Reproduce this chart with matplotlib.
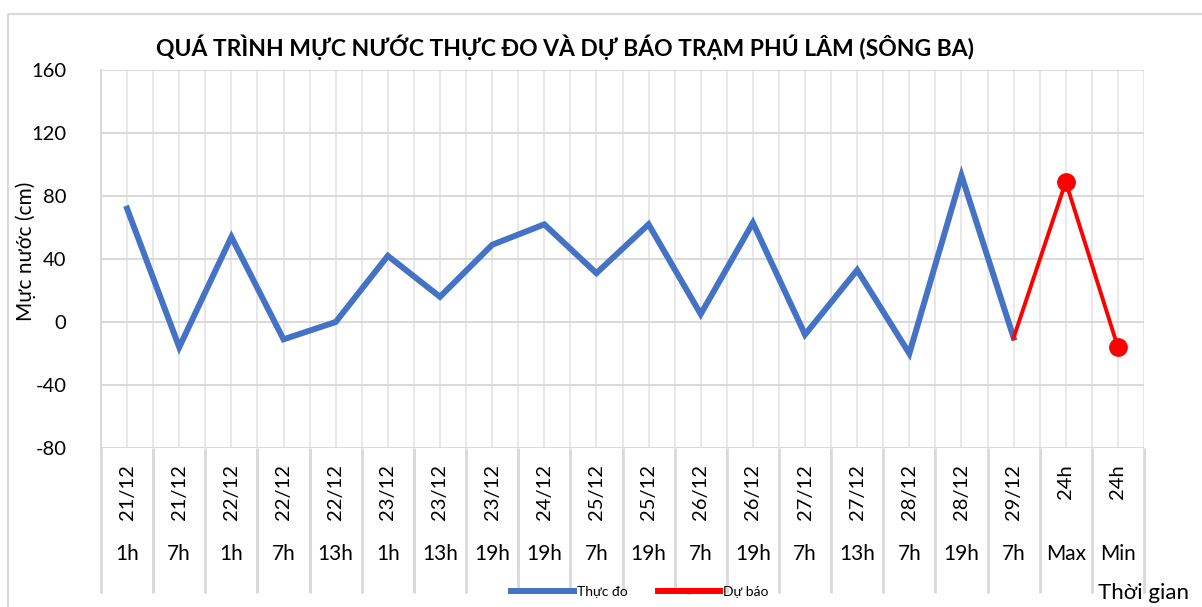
import numpy as np
import matplotlib
matplotlib.use("Agg")
from matplotlib import pyplot as plt
from matplotlib.lines import Line2D

plt.rcParams['font.family'] = ['Lato', 'DejaVu Sans']

# categories (two-level axis)
dates = ['21/12', '21/12', '22/12', '22/12', '22/12', '23/12', '23/12', '23/12', '24/12', '25/12',
         '25/12', '26/12', '26/12', '27/12', '27/12', '28/12', '28/12', '29/12', '24h', '24h']
hours = ['1h', '7h', '1h', '7h', '13h', '1h', '13h', '19h', '19h', '7h',
         '19h', '7h', '19h', '7h', '13h', '7h', '19h', '7h', 'Max', 'Min']

# water levels (cm)
thuc_do = [72, -16, 54, -11, 0, 42, 16, 49, 62, 31, 62, 5, 63, -8, 33, -20, 93, -10, None, None]
du_bao = [None] * 17 + [-10, 89, -16]

yticks = [-80, -40, 0, 40, 80, 120, 160]

x = np.arange(len(dates))
obs = np.array([np.nan if v is None else v for v in thuc_do], dtype=float)
fc = np.array([np.nan if v is None else v for v in du_bao], dtype=float)

fig = plt.figure(figsize=(12.02, 6.07), dpi=100)
ax = fig.add_axes([101 / 1202, 1 - 448 / 607, 1043 / 1202, 378 / 607])

gcol = '#d9d9d9'
ax.set_xlim(-0.5, len(dates) - 0.5)
ax.set_ylim(-80, 160)
ax.set_yticks(yticks)
ax.set_yticklabels([str(v) for v in yticks], fontsize=14.5)
ax.tick_params(axis='y', length=0, pad=25)
ax.set_xticks(np.arange(-0.5, len(dates), 0.5))
ax.tick_params(axis='x', length=0, labelbottom=False)
ax.grid(True, axis='x', color='#e4e4e4', linewidth=1.2)
ax.grid(True, axis='y', color=gcol, linewidth=1.4)
ax.set_axisbelow(True)
for s in ['top', 'right', 'bottom']:
    ax.spines[s].set_visible(False)
ax.spines['left'].set_color(gcol)
ax.spines['left'].set_linewidth(1.4)

ax.plot(x, obs, color='#4472C4', linewidth=4.3, solid_joinstyle='miter', label='Thực đo')
ax.plot(x, fc, color='#FF0000', linewidth=2.8, marker='o', markersize=12.5,
        markevery=[18, 19], label='Dự báo')

# multi-level category labels
trans = ax.get_xaxis_transform()
ax.vlines(np.arange(-0.5, len(dates), 1.0), -0.384, 0, transform=trans,
          color=gcol, linewidth=2, clip_on=False)
for i in range(len(dates)):
    ax.text(x[i], -0.042, dates[i], transform=trans, rotation=90, ha='center', va='top',
            fontsize=14.5)
    ax.text(x[i], -0.28, hours[i], transform=trans, ha='center', va='center', fontsize=15)

ax.set_ylabel('Mực nước (cm)', fontsize=15)
ax.yaxis.set_label_coords(-0.062, 0.52)

fig.text(565 / 1202, 1 - 47 / 607, 'QUÁ TRÌNH MỰC NƯỚC THỰC ĐO VÀ DỰ BÁO TRẠM PHÚ LÂM (SÔNG BA)',
         ha='center', va='center', fontsize=16.5, fontweight='bold')
fig.text(1143 / 1202, 1 - 593 / 607, 'Thời gian', ha='center', va='center', fontsize=16)

leg = fig.legend(handles=[
    Line2D([], [], color='#4472C4', linewidth=4.3),
    Line2D([], [], color='#FF0000', linewidth=4.3, marker='s', markersize=3.5)],
    labels=['Thực đo', 'Dự báo'], loc='center', bbox_to_anchor=(640 / 1202, 1 - 592 / 607),
    ncol=2, frameon=False, fontsize=10, handlelength=4.5, columnspacing=2.2, handletextpad=0.2)

# outer chart border
fig.add_artist(Line2D([8 / 1202, 8 / 1202, 1.0], [0.0, 1 - 14 / 607, 1 - 14 / 607],
                      transform=fig.transFigure, color='#d9d9d9', linewidth=1.5))

fig.savefig('out.png', dpi=100)
